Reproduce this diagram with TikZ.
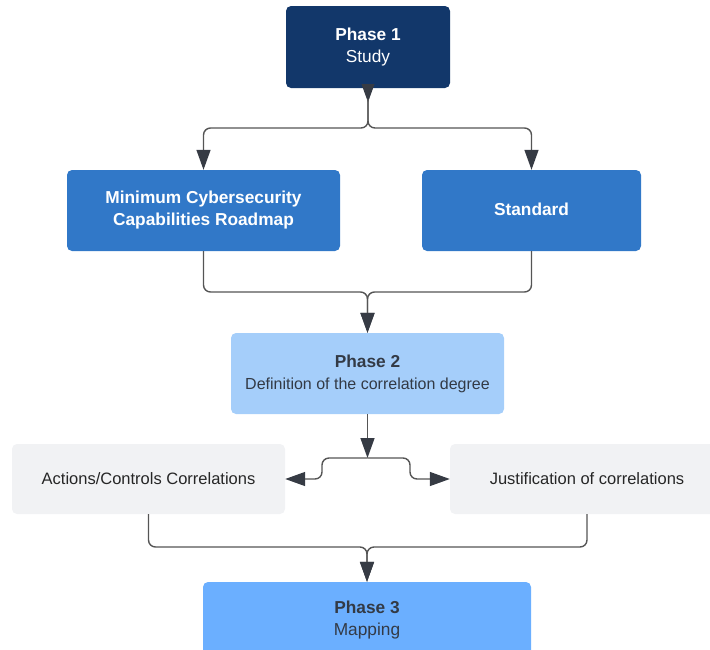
\documentclass[tikz,border=0pt]{standalone}
\usepackage{fontspec}
\setmainfont{Liberation Sans}
\usetikzlibrary{arrows.meta}
\definecolor{navy}{HTML}{12376A}
\definecolor{midblue}{HTML}{3178C8}
\definecolor{paleblue}{HTML}{A5CEFA}
\definecolor{skyblue}{HTML}{6BAFFF}
\definecolor{lightgray}{HTML}{F1F2F4}
\definecolor{darktext}{HTML}{333A45}
\definecolor{wire}{HTML}{555555}
\definecolor{tipcol}{HTML}{363B44}
\tikzset{
  box/.style={rounded corners=5pt, align=center, inner sep=0pt,
    font=\fontsize{17.3}{22}\selectfont},
  wirepath/.style={draw=wire, line width=1.4pt, rounded corners=7pt},
  tri/.style={-{Triangle[width=14pt,length=20pt,color=tipcol]}},
}
\begin{document}
\begin{tikzpicture}[x=1pt,y=-1pt]
\useasboundingbox (0,0) rectangle (710,649);
\clip (0,0) rectangle (710,649);

% phase boxes and intermediate steps
\node[box, fill=navy, text=white, minimum width=164pt, minimum height=82pt]
  (p1) at (368,47) {\textbf{Phase 1}\\Study};
\node[box, fill=midblue, text=white, minimum width=273pt, minimum height=81pt]
  (mcr) at (203.5,210.5) {\textbf{Minimum Cybersecurity}\\\textbf{Capabilities Roadmap}};
\node[box, fill=midblue, text=white, minimum width=219pt, minimum height=81pt]
  (std) at (531.5,210.5) {\raisebox{3pt}{\textbf{Standard}}};
\node[box, fill=paleblue, text=darktext, minimum width=273pt, minimum height=81pt]
  (p2) at (367.5,373.5) {\textbf{Phase 2}\\{\fontsize{16}{22}\selectfont Definition of the correlation degree}};
\node[box, fill=lightgray, text=black!85, minimum width=273pt, minimum height=70pt,
  font=\fontsize{16.5}{20}\selectfont]
  (acc) at (148.5,479) {Actions/Controls Correlations};
\node[box, fill=lightgray, text=black!85, minimum width=274pt, minimum height=70pt,
  font=\fontsize{16.5}{20}\selectfont]
  (jus) at (587,479) {Justification of correlations};
\node[box, fill=skyblue, text=darktext, minimum width=328pt, minimum height=76pt]
  (p3) at (367,620) {\textbf{Phase 3}\\Mapping};

% split below Phase 1
\coordinate (s1) at (368,99);
\fill[tipcol] ([xshift=-6.5pt,yshift=4pt]p1.south) -- ([xshift=6.5pt,yshift=4pt]p1.south)
  -- ([yshift=-14pt]p1.south) -- cycle;
\draw[wirepath, tri] (s1) -- (368,128) -- (mcr.north |- 0,128) -- (mcr.north);
\draw[wirepath, tri] (s1) -- (368,128) -- (std.north |- 0,128) -- (std.north);

% merge into Phase 2
\draw[wirepath, tri] (mcr.south) -- (mcr.south |- 0,292) -- (p2.north |- 0,292) -- (p2.north);
\draw[wirepath, tri] (std.south) -- (std.south |- 0,292) -- (p2.north |- 0,292) -- (p2.north);

% split below Phase 2
\coordinate (s2) at (p2.south |- 0,458);
\draw[draw=wire, line width=1.4pt, tri] (p2.south) -- (s2);
\draw[wirepath, tri] (s2) -- (322,458) -- (322,479) -- (acc.east);
\draw[wirepath, tri] (s2) -- (410,458) -- (410,479) -- (jus.west);

% merge into Phase 3
\draw[wirepath, tri] (acc.south) -- (acc.south |- 0,547) -- (p3.north |- 0,547) -- (p3.north);
\draw[wirepath, tri] (jus.south) -- (jus.south |- 0,547) -- (p3.north |- 0,547) -- (p3.north);
\end{tikzpicture}
\end{document}
